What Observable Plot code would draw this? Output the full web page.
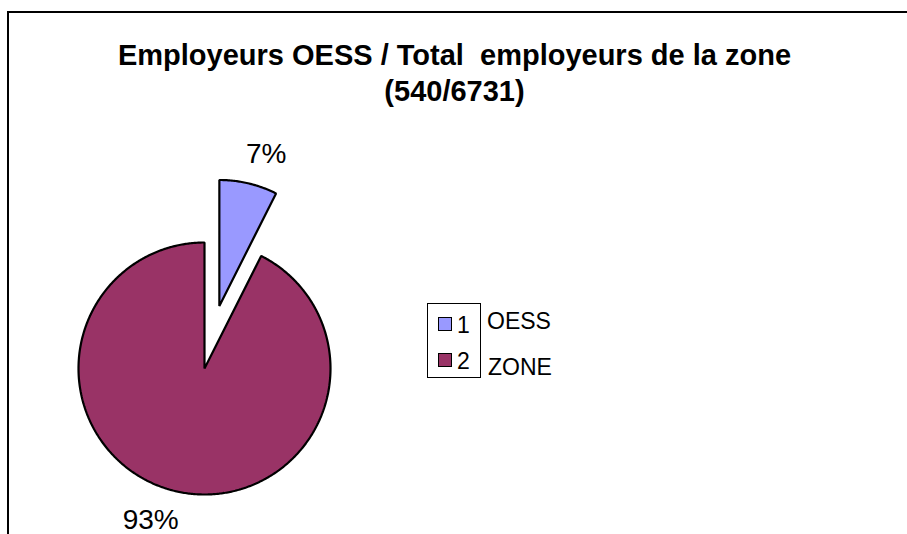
<!DOCTYPE html>
<html><head><meta charset="utf-8">
<script src="https://cdn.jsdelivr.net/npm/d3@7"></script>
<script src="https://cdn.jsdelivr.net/npm/@observablehq/plot@0.6"></script>
<style>
html,body{margin:0;padding:0;background:#fff;overflow:hidden;width:907px;height:534px}
#wrap{position:relative;width:907px;height:534px;overflow:hidden;font-family:"Liberation Sans",Arial,sans-serif;color:#000}
#border{position:absolute;left:7px;top:11px;width:1000px;height:700px;border:2px solid #000;box-sizing:border-box}
#title{position:absolute;left:0;top:37px;width:909px;text-align:center;font-weight:bold;font-size:29px;line-height:36px;white-space:pre}
#chart{position:absolute;left:0;top:0}
#legend{position:absolute;left:427px;top:303px;width:54px;height:75px;border:1px solid #000;box-sizing:border-box}
.sw{position:absolute;width:14px;height:14px;border:1.5px solid #000;box-sizing:border-box}
.lt{position:absolute;font-size:23px;line-height:23px;white-space:pre}
</style></head>
<body>
<div id="wrap">
  <div id="border"></div>
  <div id="title"></div>
  <div id="chart"></div>
  <div id="legend"></div>
</div>
<script>
const titleLines = ["Employeurs OESS / Total  employeurs de la zone", "(540/6731)"];
const categories = ["1", "2"];
const names = ["OESS", "ZONE"];
const values = [540, 6731];
const colors = ["#9999FF", "#993366"];
const pctLabels = ["7%", "93%"];

document.getElementById("title").textContent = titleLines.join("\n");

// layout
const R = 126, cx = 204, cy = 368;
const explode = [0.51, 0];
const labelK = 1.24, labelShift = [0.085, -0.14];

const arcs = d3.pie().sort(null).startAngle(0).endAngle(2 * Math.PI)(values);
const pts = [];
const labels = [];
arcs.forEach((a, i) => {
  const m = (a.startAngle + a.endAngle) / 2;
  const ox = explode[i] * Math.sin(m), oy = explode[i] * Math.cos(m);
  pts.push({k: names[i], x: ox, y: oy});
  const n = Math.max(2, Math.ceil((a.endAngle - a.startAngle) / 0.01));
  for (let j = 0; j <= n; j++) {
    const t = a.startAngle + (a.endAngle - a.startAngle) * j / n;
    pts.push({k: names[i], x: ox + Math.sin(t), y: oy + Math.cos(t)});
  }
  labels.push({
    text: pctLabels[i],
    x: ox + labelK * Math.sin(m) + labelShift[i],
    y: oy + labelK * Math.cos(m)
  });
});

const chart = Plot.plot({
  width: 907, height: 534, margin: 0,
  style: {fontFamily: "Liberation Sans, Arial, sans-serif", background: "transparent", overflow: "visible"},
  x: {domain: [-1, 1], range: [cx - R, cx + R], axis: null},
  y: {domain: [-1, 1], range: [cy + R, cy - R], axis: null},
  color: {domain: names, range: colors},
  marks: [
    Plot.line(pts, {x: "x", y: "y", z: "k", fill: "k", stroke: "#000", strokeWidth: 2.2, strokeLinejoin: "miter", curve: "linear-closed"}),
    Plot.text(labels, {x: "x", y: "y", text: "text", fontSize: 28, fill: "#000"})
  ]
});
document.getElementById("chart").appendChild(chart);

// legend
const leg = document.getElementById("legend");
const wrap = document.getElementById("wrap");
const rowBase = [29, 65];      // baselines of row numbers inside box
const nameBase = [329, 375];   // baselines of names outside box
categories.forEach((c, i) => {
  const sw = document.createElement("div");
  sw.className = "sw";
  sw.style.left = "10px";
  sw.style.top = (rowBase[i] - 16) + "px";
  sw.style.background = colors[i];
  leg.appendChild(sw);
  const t = document.createElement("div");
  t.className = "lt";
  t.style.left = "29px";
  t.style.top = (rowBase[i] - 19.5) + "px";
  t.textContent = c;
  leg.appendChild(t);
  const nm = document.createElement("div");
  nm.className = "lt";
  nm.style.left = (487 + i) + "px";
  nm.style.top = (nameBase[i] - 19.5) + "px";
  nm.textContent = names[i];
  wrap.appendChild(nm);
});
</script>
</body></html>
